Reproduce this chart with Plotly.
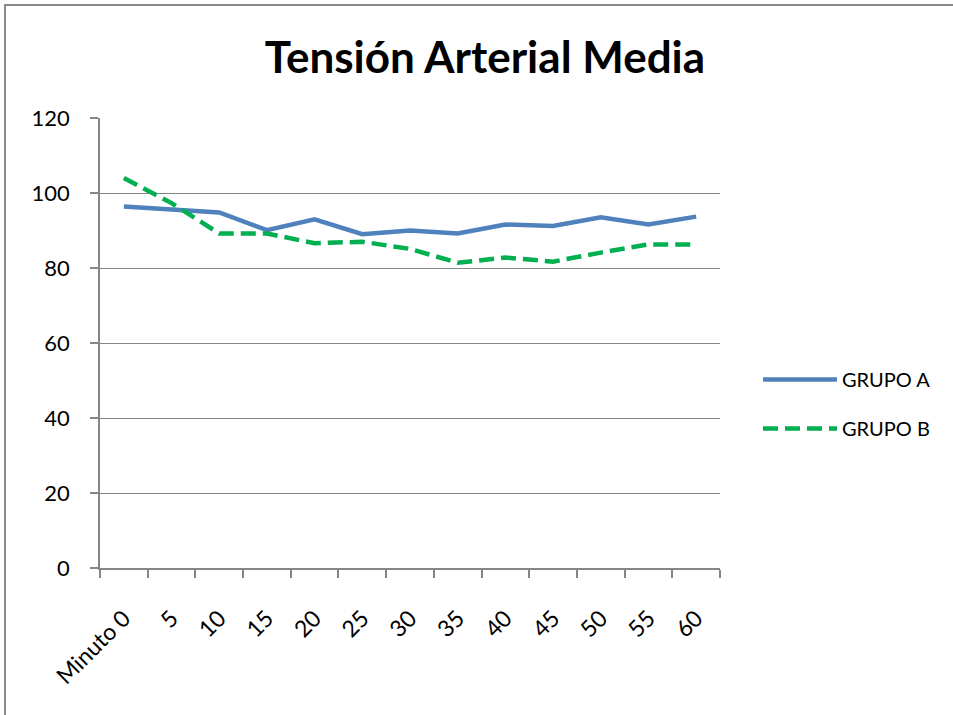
import plotly.graph_objects as go

categories = ["Minuto 0", "5", "10", "15", "20", "25", "30", "35", "40", "45", "50", "55", "60"]
grupo_a = [96.4, 95.7, 94.8, 90.1, 93.0, 89.0, 90.0, 89.2, 91.6, 91.2, 93.5, 91.6, 93.7]
grupo_b = [104.0, 97.3, 89.2, 89.2, 86.6, 87.0, 85.1, 81.4, 82.8, 81.7, 84.1, 86.3, 86.3]
y_ticks = [0, 20, 40, 60, 80, 100, 120]

FONT = "Lato"
GRID = "#868686"

fig = go.Figure()
fig.add_trace(go.Scatter(x=categories, y=grupo_a, mode="lines", name="GRUPO A",
                         legendgroup="a",
                         line=dict(color="#4F81BD", width=4.5)))
fig.add_trace(go.Scatter(x=categories, y=grupo_b, mode="lines", name="GRUPO B",
                         legendgroup="b",
                         line=dict(color="#00B050", width=4.5, dash="15px,7px")))

L, T, PW, PH = 100, 118, 620, 450
fig.update_layout(
    width=953, height=715,
    margin=dict(l=L, r=953 - L - PW, t=T, b=715 - T - PH),
    paper_bgcolor="white", plot_bgcolor="white",
    font=dict(family=FONT, size=21, color="#000000"),
    title=dict(text="<b>Tensión Arterial Media</b>", x=485 / 953, xanchor="center",
               y=1 - 58 / 715, yanchor="middle", yref="container",
               font=dict(family=FONT, size=44, color="#000000")),
    showlegend=True,
    legend=dict(x=(758 - L) / PW, y=(568 - 404) / PH, xanchor="left", yanchor="middle",
                font=dict(family=FONT, size=20), tracegroupgap=20,
                itemwidth=74, bgcolor="rgba(0,0,0,0)"),
    xaxis=dict(type="category", range=[-0.5, 12.5], tickson="boundaries",
               ticks="outside", ticklen=8, tickcolor=GRID, tickwidth=1.5,
               showline=True, linecolor=GRID, linewidth=1.5,
               showgrid=False, tickangle=-45, ticklabelstandoff=26,
               tickfont=dict(family=FONT, size=23)),
    yaxis=dict(range=[0, 120], tickvals=y_ticks, ticks="outside", ticklen=8,
               tickcolor=GRID, tickwidth=1.5, showline=True, linecolor=GRID, linewidth=1.5,
               showgrid=True, gridcolor=GRID, gridwidth=1.2, zeroline=False,
               ticklabelstandoff=16,
               tickfont=dict(family=FONT, size=22)),
    shapes=[dict(type="rect", xref="paper", yref="paper",
                 x0=(5 - L) / PW, x1=(975 - L) / PW,
                 y0=(568 - 740) / PH, y1=(568 - 5) / PH,
                 line=dict(color="#8A8A8A", width=2), layer="below")],
)

fig.write_html("out.html", config={"displayModeBar": False},
               post_script="document.body.style.margin='0';")
